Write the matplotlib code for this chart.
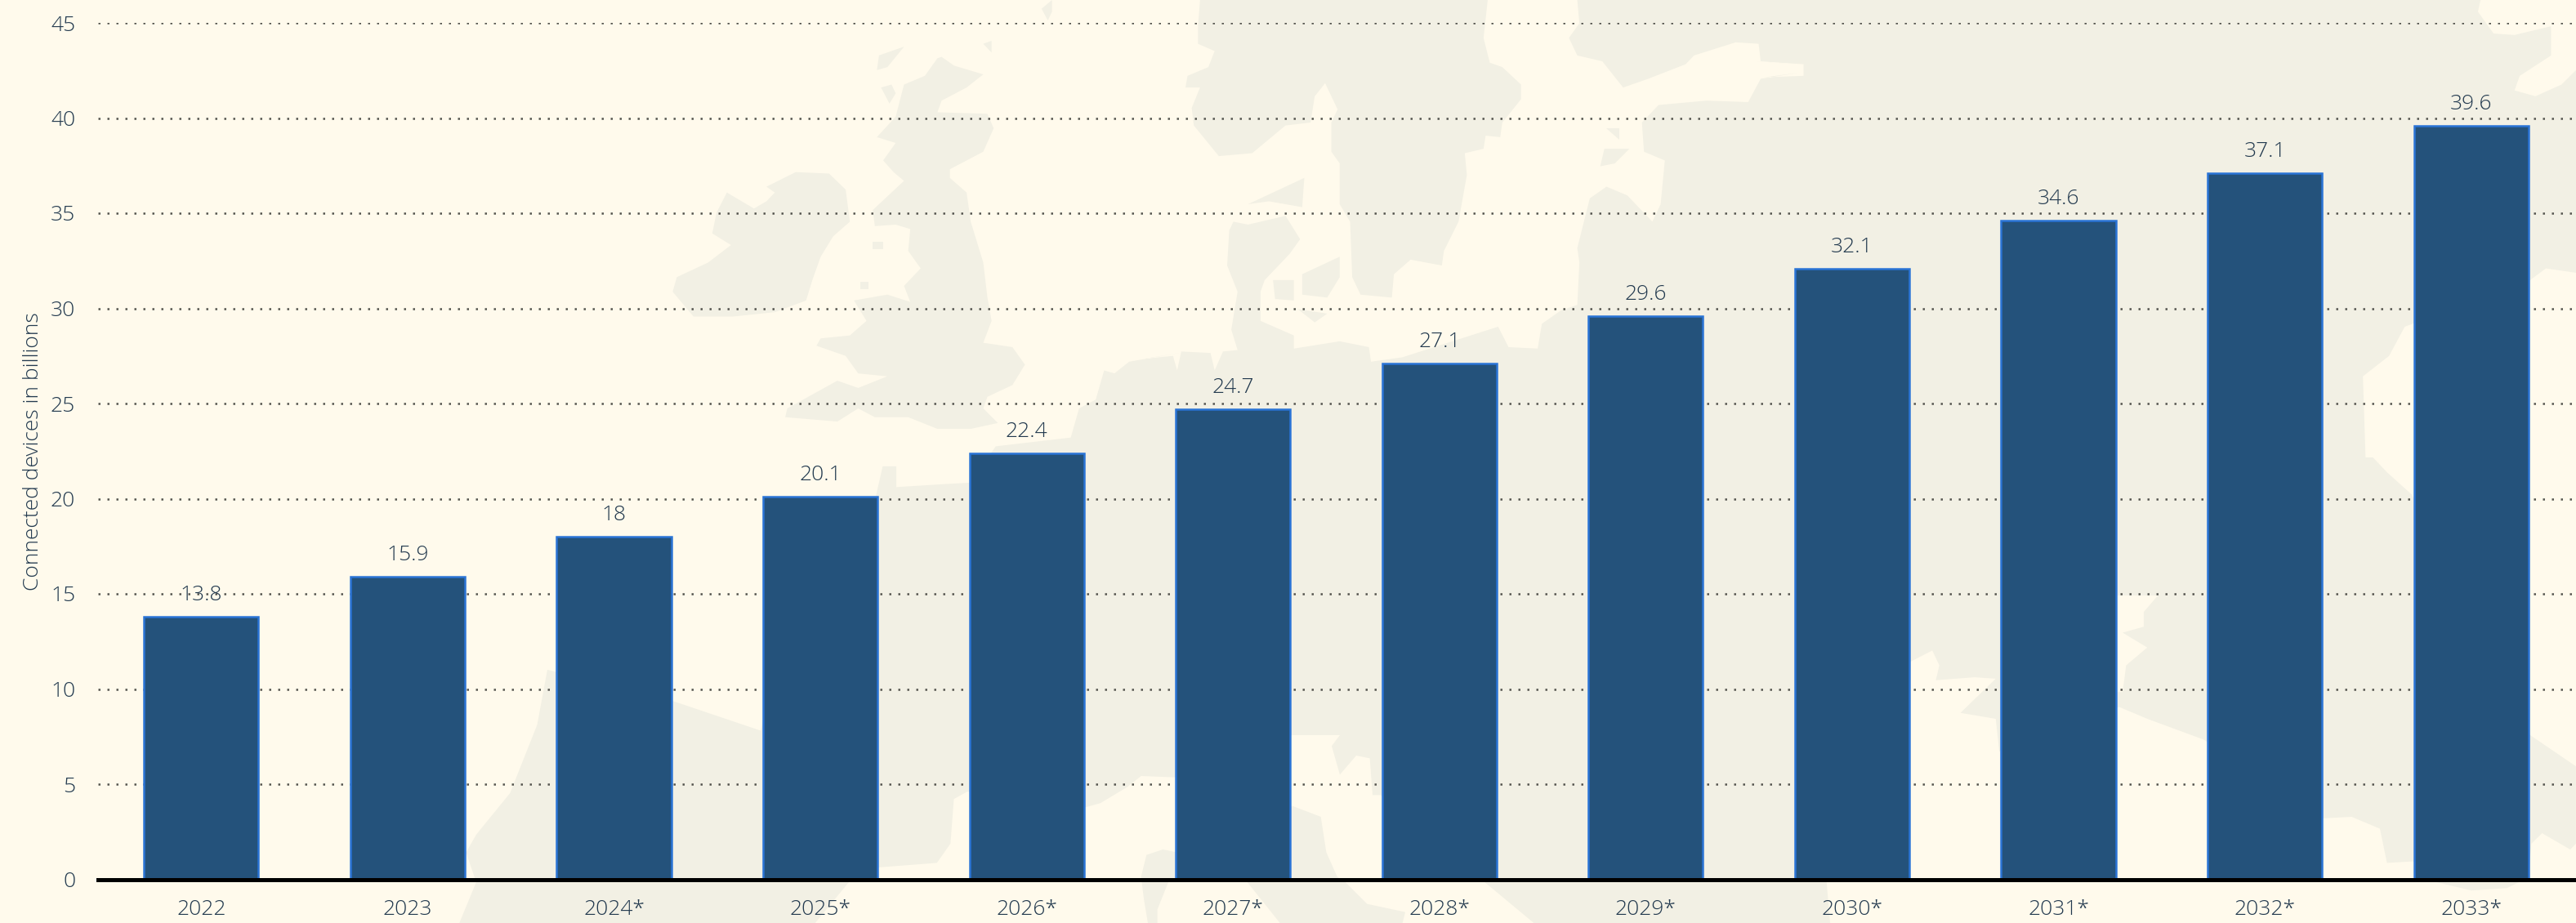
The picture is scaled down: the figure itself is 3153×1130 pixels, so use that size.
import matplotlib
matplotlib.use("Agg")
import matplotlib.pyplot as plt
from matplotlib.patches import Polygon

years = ["2022", "2023", "2024*", "2025*", "2026*", "2027*", "2028*", "2029*", "2030*", "2031*", "2032*", "2033*"]
devices = [13.8, 15.9, 18, 20.1, 22.4, 24.7, 27.1, 29.6, 32.1, 34.6, 37.1, 39.6]
y_ticks = [0, 5, 10, 15, 20, 25, 30, 35, 40, 45]
y_label = "Connected devices in billions"

BG = "#fffaec"
LAND = "#f2f0e4"
BAR = "#24527b"
EDGE = "#2a74d6"
TXT = "#22394e"
W, H = 3153, 1130


def crop(pts, x0, y0, sx, sy):
    return [(x0 + a / sx, y0 + b / sy) for a, b in pts]


def c5(pts):
    return crop(pts, 780, 0, 1.96, 2.8)


def c6(pts):
    return crop(pts, 1400, 0, 1.96, 2.8)


def c7(pts):
    return crop(pts, 2150, 0, 1.563, 2.8)


def c8(pts):
    return crop(pts, 500, 560, 1.206, 2.75)


def c9(pts):
    return crop(pts, 1800, 560, 1.159, 2.75)


def c10(pts):
    return crop(pts, 1300, 900, 3, 3)


ireland = c5([(215, 660), (280, 715), (310, 690), (330, 660), (310, 640), (380, 590), (460, 595), (500, 650),
              (510, 760), (470, 810), (440, 880), (420, 960), (405, 1030), (330, 1070), (230, 1085), (135, 1085),
              (85, 1000), (95, 950), (170, 900), (225, 840), (180, 800), (190, 730)])
britain = c5([(730, 195), (760, 225), (830, 255), (790, 300), (730, 345), (720, 385), (840, 390), (855, 440),
              (830, 520), (750, 580), (750, 610), (790, 660), (800, 760), (830, 900), (840, 1020), (850, 1100),
              (830, 1175), (900, 1190), (930, 1250), (900, 1320), (840, 1360), (830, 1400), (865, 1450), (800, 1470),
              (720, 1470), (650, 1430), (570, 1430), (530, 1400), (480, 1445), (355, 1430), (360, 1400), (480, 1305),
              (530, 1330), (600, 1290), (530, 1280), (500, 1220), (430, 1185), (440, 1160), (510, 1150), (550, 1100),
              (520, 1030), (600, 1010), (655, 1035), (640, 980), (680, 920), (650, 860), (655, 785), (620, 770),
              (570, 775), (565, 720), (640, 620), (615, 590), (590, 550), (620, 490), (575, 470), (620, 400),
              (640, 290), (690, 260), (720, 200)])
scandinavia = c6([(135, 0), (825, 0), (815, 130), (830, 215), (860, 230), (905, 290), (905, 340), (860, 420),
                  (855, 470), (820, 465), (815, 510), (770, 525), (775, 600), (755, 760), (720, 860), (715, 910),
                  (640, 890), (600, 940), (595, 1020), (520, 1010), (500, 950), (495, 760), (470, 700), (470, 560),
                  (450, 520), (450, 420), (465, 375), (435, 285), (410, 330), (400, 420), (340, 430), (260, 525),
                  (180, 535), (120, 430), (115, 370), (135, 300), (100, 300), (105, 260), (155, 230), (170, 175),
                  (130, 150), (130, 90)])
europe = (
    c6([(1040, 0)])
    + c7([(1385, 0), (1380, 40), (1410, 115), (1450, 120), (1520, 90), (1520, 190), (1460, 260), (1450, 310),
          (1490, 330), (1540, 290), (1568, 240), (1568, 935), (1510, 920), (1480, 960), (1240, 1120), (1210, 1220),
          (1160, 1290), (1165, 1568)])
    + c9([(1280, 0), (1300, 50), (1335, 125), (1500, 930), (1568, 1040), (1568, 1300), (1560, 1320), (1520, 1265),
          (1505, 1300), (1500, 1415), (1470, 1450), (1420, 1458), (1370, 1430), (1337, 1360), (1300, 1365),
          (1290, 1250), (1250, 1210), (1210, 1215), (1040, 950), (960, 880), (920, 840), (750, 990), (745, 880),
          (695, 860), (745, 745), (715, 740), (660, 750), (665, 700), (655, 650), (622, 690), (505, 1430),
          (510, 1568), (90, 1568), (20, 1430)])
    + c10([(1170, 220), (1140, 220), (1130, 85), (1080, 75), (1020, 145), (990, 40), (1020, 0), (845, 0),
           (415, 155), (290, 150), (240, 190), (140, 250), (85, 265)])
    + c8([(825, 1125), (805, 1150), (800, 1300), (780, 1365), (695, 1380), (650, 1430), (600, 1568),
          (75, 1568), (100, 1430), (85, 1330), (100, 1270), (150, 1130), (190, 900), (205, 715), (390, 820),
          (520, 920), (600, 130), (690, 130), (700, 30), (720, 30), (720, 100), (790, 90), (830, 85)])
    + c5([(860, 1530), (1040, 1500), (1060, 1400), (1100, 1370), (1120, 1270), (1145, 1280), (1180, 1240), (1300, 1210)])
    + c6([(0, 1230), (70, 1220), (80, 1270), (90, 1205), (160, 1210), (170, 1270), (190, 1205), (225, 1200), (210, 1130),
          (225, 1000), (200, 910), (205, 790), (215, 760), (250, 770), (340, 740), (375, 820), (350, 870), (290, 960),
          (280, 1000), (280, 1100), (360, 1150), (360, 1195), (470, 1170), (540, 1190), (545, 1240), (620, 1225),
          (850, 1120), (875, 1190), (945, 1195), (955, 1110), (1000, 1065), (1040, 1045), (1045, 900), (1040, 850),
          (1070, 680), (1110, 640), (1160, 670), (1220, 760), (1240, 700), (1250, 550), (1200, 520), (1195, 420),
          (1235, 360), (1350, 345), (1450, 350), (1480, 270), (1568, 250)])
    + c7([(15, 265), (90, 260), (90, 220), (0, 210)])
    + c6([(1568, 220), (1480, 210), (1475, 150), (1420, 145), (1320, 190), (1300, 220), (1210, 270), (1150, 300),
          (1100, 210), (1040, 190), (1020, 130), (1045, 80)])
)
italy = c10([(845, 260), (950, 300), (970, 430), (1010, 520), (1040, 540), (1120, 620), (1260, 650), (1250, 690),
             (800, 690), (680, 540), (700, 400)])
corsica = c10([(290, 520), (310, 440), (370, 420), (420, 430), (420, 520), (390, 540), (350, 640), (350, 690),
               (315, 690), (300, 600)])
islands = [
    c5([(575, 240), (580, 190), (640, 160), (600, 230)]),
    c5([(585, 300), (610, 290), (620, 320), (605, 355)]),
    c5([(830, 150), (850, 140), (850, 180)]),
    c5([(970, 30), (995, 0), (995, 40), (985, 70)]),
    c5([(565, 830), (590, 830), (590, 855), (565, 855)]),
    c5([(535, 965), (555, 965), (555, 990), (535, 990)]),
    c6([(250, 700), (385, 610), (380, 710), (300, 690)]),
    c6([(310, 960), (360, 960), (360, 1030), (315, 1025)]),
    c6([(380, 940), (440, 900), (470, 880), (470, 950), (440, 1020), (380, 1010)]),
    c6([(370, 1060), (440, 1075), (410, 1105)]),
    c6([(1110, 440), (1140, 440), (1140, 480)]),
    c6([(1105, 510), (1165, 510), (1130, 560), (1095, 570)]),
]
# thin inlet cut back out of the mainland
inlet = c9([(918, 465), (975, 465), (955, 520), (955, 570), (925, 590), (960, 640), (930, 700), (925, 790), (918, 790)])

plt.rcParams["font.family"] = ["Open Sans", "DejaVu Sans"]
fig = plt.figure(figsize=(W / 100, H / 100), dpi=100, facecolor=BG)

bg = fig.add_axes([0, 0, 1, 1], zorder=0)
bg.set_xlim(0, W)
bg.set_ylim(H, 0)
bg.axis("off")
for shape in [europe, ireland, britain, scandinavia, italy, corsica] + islands:
    bg.add_patch(Polygon(shape, closed=True, facecolor=LAND, edgecolor="none"))
bg.add_patch(Polygon(inlet, closed=True, facecolor=BG, edgecolor="none"))

# axes box runs from the y=45 grid line down to the baseline
left, right, top, bottom = 120, 3151, 28, 1076.5
ax = fig.add_axes([left / W, 1 - bottom / H, (right - left) / W, (bottom - top) / H], zorder=1)
ax.patch.set_alpha(0)
ax.set_xlim(-0.5, len(years) - 0.5)
ax.set_ylim(0, 45)

x = range(len(years))
ax.bar(x, devices, width=0.555, color=BAR, edgecolor=EDGE, linewidth=1.8, zorder=3)
for i, v in enumerate(devices):
    ax.annotate(f"{v:g}", (i, v), xytext=(0, 10), textcoords="offset points", ha="center", va="bottom",
                fontsize=19, color=TXT, fontweight="light", zorder=4)

ax.set_yticks(y_ticks)
ax.set_xticks(list(x))
ax.set_xticklabels(years)
ax.grid(axis="y", color="#55554f", linewidth=1.8, linestyle=(0, (1, 3.4)), zorder=1)
ax.set_axisbelow(True)
ax.tick_params(axis="both", length=0, labelsize=19, labelcolor=TXT)
ax.tick_params(axis="x", pad=18)
ax.tick_params(axis="y", pad=20)
for lbl in ax.get_xticklabels() + ax.get_yticklabels():
    lbl.set_fontweight("light")

for s in ["top", "left", "right"]:
    ax.spines[s].set_visible(False)
ax.spines["bottom"].set_color("black")
ax.spines["bottom"].set_linewidth(3.6)
ax.spines["bottom"].set_zorder(5)

fig.text(41 / W, 1 - 553 / H, y_label, rotation=90, ha="center", va="center",
         fontsize=19, color=TXT, fontweight="light")

fig.savefig("out.png", dpi=100, facecolor=BG)
